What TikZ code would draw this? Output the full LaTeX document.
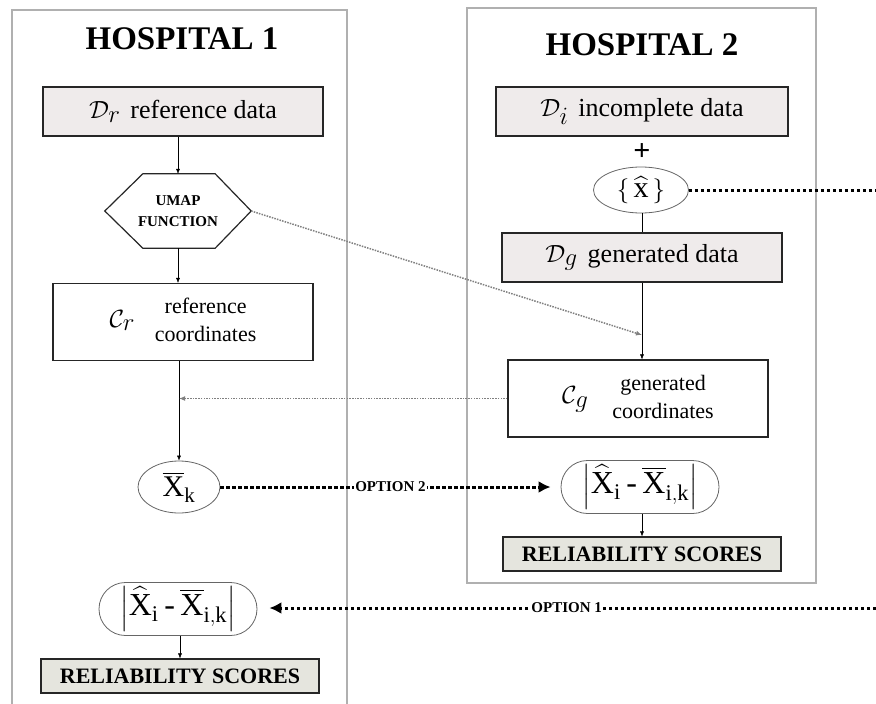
\documentclass[tikz,border=0pt]{standalone}
\usepackage{amsmath}
\usepackage{fontspec}
\setmainfont{Liberation Serif}
\usepackage{tikz}
\usetikzlibrary{arrows.meta,calc,positioning,shapes.geometric,shapes.misc}
\definecolor{datafill}{RGB}{239,235,235}
\definecolor{scorefill}{RGB}{229,229,222}
\definecolor{framegray}{RGB}{176,176,176}
\newcommand{\fs}[1]{\fontsize{#1}{#1}\selectfont}

\begin{document}
\begin{tikzpicture}[x=1pt,y=-1pt,>={Latex[length=5pt,width=4pt]},
  hosp/.style={draw=framegray,line width=2.5pt},
  title/.style={font=\fs{33}\bfseries},
  databox/.style={draw=black!85,line width=1.2pt,fill=datafill,minimum height=49pt,inner sep=0pt,font=\fs{26}},
  coordbox/.style={draw=black!85,line width=1.2pt,fill=white,minimum width=260pt,minimum height=77pt,inner sep=0pt,font=\fontsize{22}{28}\selectfont},
  scorebox/.style={draw=black!85,line width=1.2pt,fill=scorefill,minimum width=278pt,minimum height=34pt,inner sep=0pt,font=\fs{22}\bfseries},
  pill/.style={rounded rectangle,draw=black!60,line width=0.8pt,minimum width=158pt,minimum height=53pt,inner sep=0pt,font=\fs{32}},
  oval/.style={ellipse,draw=black!60,line width=0.8pt,inner sep=0pt},
  optline/.style={line width=3pt,dash pattern=on 3.5pt off 2.5pt},
  optlabel/.style={fill=white,inner sep=1.5pt,font=\fs{15}\bfseries},
  hint/.style={gray,line width=1.5pt,dash pattern=on 1.5pt off 1.2pt}]
\useasboundingbox (0,0) rectangle (876,704);
\fill[white] (0,0) rectangle (876,704);
\draw[hosp] (12,704) -- (12,10) -- (347,10) -- (347,704);
\draw[hosp] (467,8) rectangle (816,583);
\node[title] (t1) at (182,39) {HOSPITAL 1};
\node[title] (t2) at (642,45) {HOSPITAL 2};

% hospital 1
\node[databox,minimum width=280pt] (dr) at (183,111.5) {{\fs{38}$\mathcal{D}_{\textstyle r}$}\hspace{10pt}reference data};
\node[minimum width=146pt,minimum height=74pt,inner sep=0pt,align=center,font=\fontsize{15}{21}\selectfont\bfseries] (umap) at (178,211) {UMAP\\FUNCTION};
\draw[draw=black!85,line width=1.2pt] (umap.west) -- ($(umap.north west)+(38,0)$) -- ($(umap.north east)+(-36,0)$) -- (umap.east) -- ($(umap.south east)+(-36,0)$) -- ($(umap.south west)+(38,0)$) -- cycle;
\node[coordbox] (cr) at (183,322) {{\fs{42}$\mathcal{C}_{\textstyle r}$}\hspace{20pt}\begin{tabular}{@{}c@{}}reference\\coordinates\end{tabular}};
\node[oval,minimum width=82pt,minimum height=52pt,font=\fs{30}] (xk) at (179,487) {$\overline{\mathrm{X}}_{\mathrm{k}}$};
\node[pill] (pill1) at (178,609) {$\left|\widehat{\mathrm{X}}_{\mathrm{i}}\mathbin{\mbox{-}}\overline{\mathrm{X}}_{\mathrm{i,k}}\right|$};
\node[scorebox] (rs1) at (180,676) {RELIABILITY SCORES};

% hospital 2
\node[databox,minimum width=292pt] (di) at (642,111.5) {{\fs{38}$\mathcal{D}_{\textstyle i}$}\hspace{10pt}incomplete data};
\node[font=\fs{30}\bfseries] (plus) at (642,152) {+};
\node[oval,minimum width=95pt,minimum height=46pt,font=\fs{30}] (xhat) at (641,190) {$\{\,\widehat{\mathrm{x}}\,\}$};
\node[databox,minimum width=280pt] (dg) at (642,257.5) {{\fs{38}$\mathcal{D}_{\textstyle g}$}\hspace{10pt}generated data};
\node[coordbox] (cg) at (638,398.5) {{\fs{42}$\mathcal{C}_{\textstyle g}$}\hspace{24pt}\begin{tabular}{@{}c@{}}generated\\coordinates\end{tabular}};
\node[pill] (pill2) at (640,487) {$\left|\widehat{\mathrm{X}}_{\mathrm{i}}\mathbin{\mbox{-}}\overline{\mathrm{X}}_{\mathrm{i,k}}\right|$};
\node[scorebox] (rs2) at (642,554) {RELIABILITY SCORES};

\coordinate (hit) at (642,335);
\coordinate (e1) at (876,190);
\coordinate (e2) at (876,608);

\draw[->] (umap.north |- dr.south) -- (umap.north);
\draw[->] (umap.south) -- (umap.south |- cr.north);
\draw[->] (xk.north |- cr.south) -- (xk.north);
\draw[->] (pill1.south -| rs1.north) -- (rs1.north);
\draw (xhat.south -| dg.north) -- (dg.north);
\draw[->] (dg.south) -- (dg.south |- cg.north);
\draw[->] (pill2.south -| rs2.north) -- (rs2.north);
\draw[hint,-{Latex[length=6pt,width=5pt]}] (umap.east) -- (hit);
\draw[hint,-{Latex[length=6pt,width=5pt]}] (cg.west) -- (cg.west -| xk.north);

\draw[optline,-{Latex[length=12pt,width=12pt]},shorten >=10pt] (xk.east) -- node[optlabel] {OPTION 2} (pill2.west);
\draw[optline] (xhat.east) -- (e1);
\draw[optline,-{Latex[length=12pt,width=12pt]},shorten >=12pt] (e2) -- node[optlabel] {OPTION 1} (e2 -| pill1.east);
\end{tikzpicture}
\end{document}
